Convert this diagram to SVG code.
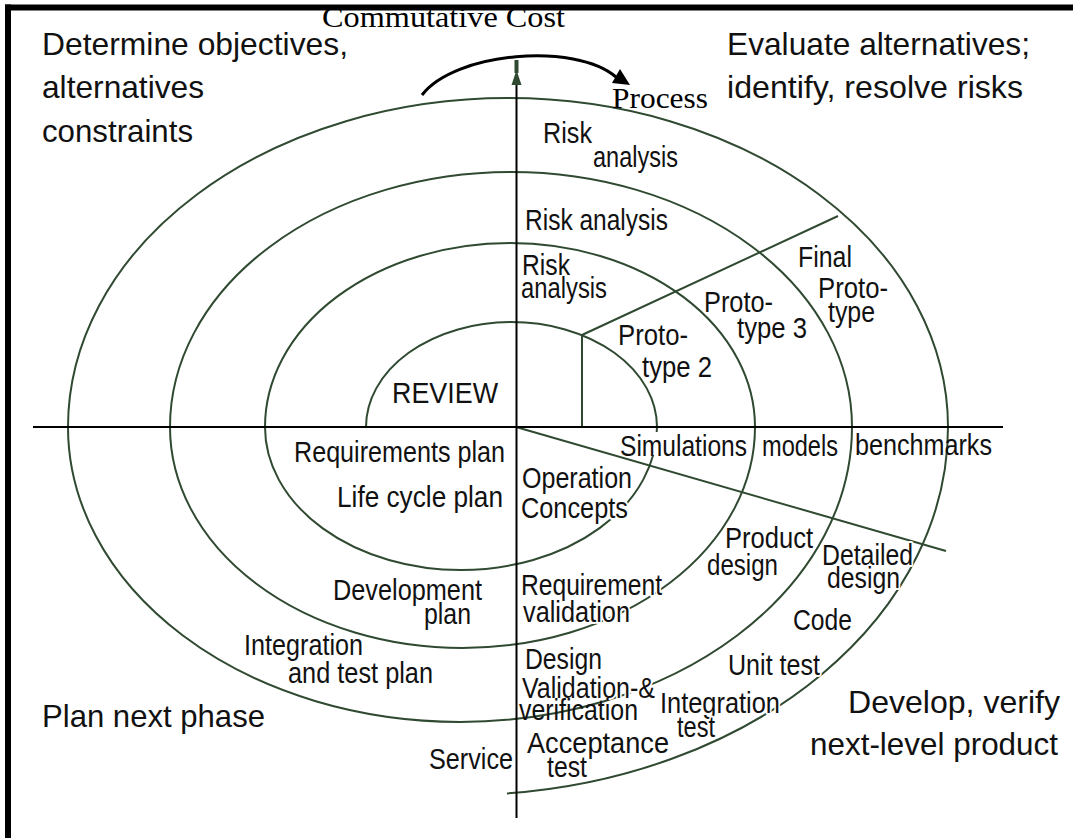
<svg xmlns="http://www.w3.org/2000/svg" width="1073" height="838" viewBox="0 0 1073 838">
<style>
  .arc { fill: none; stroke: #2f4a31; stroke-width: 2; }
  .guide { fill: none; stroke: #2f4a31; stroke-width: 2; }
  .axis { fill: none; stroke: #000; stroke-width: 2; }
  .lbl { font-family: "Liberation Sans", Arial, sans-serif; font-size: 30px; fill: #111; }
  .big { font-size: 32px; }
  .halo { stroke: #fff; stroke-width: 4; stroke-linejoin: round; paint-order: stroke; }
  .serif { font-family: "Liberation Serif", "Times New Roman", serif; font-size: 29px; fill: #000; }
</style>

<rect width="1073" height="838" fill="#fff"/>

<!-- page frame: heavy rule along top and left edges -->
<g id="frame" fill="#000">
  <rect x="5" y="4.5" width="1068" height="6"/>
  <rect x="5" y="4.5" width="6" height="833.5"/>
</g>

<g id="connectors">
  <!-- spiral: alternating upper and lower half-ellipses -->
  <path class="arc" d="M366,427 A145.5,105 0 0 1 657,427"/>
  <path class="arc" d="M657,427 A196,143 0 0 1 265,427"/>
  <path class="arc" d="M265,427 A245,184 0 0 1 755,427"/>
  <path class="arc" d="M755,427 A292.5,221 0 0 1 170,427"/>
  <path class="arc" d="M170,427 A341,255 0 0 1 852,427"/>
  <path class="arc" d="M852,427 A392,295 0 0 1 68,427"/>
  <path class="arc" d="M68,427 A440,329 0 0 1 948,427"/>
  <path class="arc" d="M948,427 A487,368 0 0 1 507,793.4"/>
  <!-- prototype divider and development divider -->
  <path class="guide" d="M582,427 V335 L838,216"/>
  <path class="guide" d="M516,427 L946,551"/>
  <!-- axes -->
  <path class="axis" d="M33,427 H1003"/>
  <path class="axis" d="M516.5,84 V818"/>
  <rect x="514.5" y="60" width="4" height="13" fill="#2f4a31"/>
  <polygon points="511.5,85 521.5,85 516.5,70" fill="#2f4a31"/>
  <!-- cumulative cost / process arrow -->
  <path d="M422,95 C455,52 575,42 616,77" fill="none" stroke="#000" stroke-width="3"/>
  <polygon points="612,83 620,69 630,85" fill="#000"/>
</g>

<g id="arrow-labels">
  <text class="serif" x="322" y="27" textLength="243" lengthAdjust="spacingAndGlyphs">Commutative Cost</text>
  <text class="serif" x="612" y="108" textLength="96" lengthAdjust="spacingAndGlyphs">Process</text>
</g>

<g id="quadrant-objectives">
  <text class="lbl big" x="42" y="55" textLength="306" lengthAdjust="spacingAndGlyphs">Determine objectives,</text>
  <text class="lbl big" x="42" y="98" textLength="162" lengthAdjust="spacingAndGlyphs">alternatives</text>
  <text class="lbl big" x="42" y="142" textLength="151" lengthAdjust="spacingAndGlyphs">constraints</text>
</g>
<g id="quadrant-evaluate">
  <text class="lbl big" x="727" y="55" textLength="303" lengthAdjust="spacingAndGlyphs">Evaluate alternatives;</text>
  <text class="lbl big" x="727" y="98" textLength="296" lengthAdjust="spacingAndGlyphs">identify, resolve risks</text>
</g>
<g id="quadrant-plan">
  <text class="lbl big" x="42" y="727" textLength="223" lengthAdjust="spacingAndGlyphs">Plan next phase</text>
</g>
<g id="quadrant-develop">
  <text class="lbl big" x="848" y="713" textLength="212" lengthAdjust="spacingAndGlyphs">Develop, verify</text>
  <text class="lbl big" x="810" y="755" textLength="248" lengthAdjust="spacingAndGlyphs">next-level product</text>
</g>

<g id="risk-analysis-outer">
  <text class="lbl" x="543" y="143" textLength="49" lengthAdjust="spacingAndGlyphs">Risk</text>
  <text class="lbl" x="593" y="167" textLength="85" lengthAdjust="spacingAndGlyphs">analysis</text>
</g>
<g id="risk-analysis-middle">
  <text class="lbl" x="525" y="230" textLength="143" lengthAdjust="spacingAndGlyphs">Risk analysis</text>
</g>
<g id="risk-analysis-inner">
  <text class="lbl" x="522" y="275" textLength="48" lengthAdjust="spacingAndGlyphs">Risk</text>
  <text class="lbl" x="521" y="298" textLength="86" lengthAdjust="spacingAndGlyphs">analysis</text>
</g>
<g id="final-prototype">
  <text class="lbl" x="798" y="267" textLength="54" lengthAdjust="spacingAndGlyphs">Final</text>
  <text class="lbl" x="818" y="298" textLength="70" lengthAdjust="spacingAndGlyphs">Proto-</text>
  <text class="lbl" x="828" y="322" textLength="47" lengthAdjust="spacingAndGlyphs">type</text>
</g>
<g id="prototype-3">
  <text class="lbl" x="704" y="312" textLength="69" lengthAdjust="spacingAndGlyphs">Proto-</text>
  <text class="lbl" x="737" y="338" textLength="70" lengthAdjust="spacingAndGlyphs">type 3</text>
</g>
<g id="prototype-2">
  <text class="lbl" x="618" y="345" textLength="70" lengthAdjust="spacingAndGlyphs">Proto-</text>
  <text class="lbl" x="642" y="377" textLength="70" lengthAdjust="spacingAndGlyphs">type 2</text>
</g>
<g id="review">
  <text class="lbl" x="392" y="403" textLength="106" lengthAdjust="spacingAndGlyphs">REVIEW</text>
</g>
<g id="simulations">
  <rect x="617" y="432" width="132" height="23" fill="#fff"/>
  <text class="lbl" x="620" y="456" textLength="127" lengthAdjust="spacingAndGlyphs">Simulations</text>
  <text class="lbl" x="762" y="456" textLength="76" lengthAdjust="spacingAndGlyphs">models</text>
  <text class="lbl" x="855" y="455" textLength="137" lengthAdjust="spacingAndGlyphs">benchmarks</text>
</g>
<g id="requirements-plan">
  <text class="lbl" x="294" y="462" textLength="211" lengthAdjust="spacingAndGlyphs">Requirements plan</text>
  <text class="lbl" x="337" y="507" textLength="166" lengthAdjust="spacingAndGlyphs">Life cycle plan</text>
</g>
<g id="operation-concepts">
  <text class="lbl halo" x="522" y="488" textLength="110" lengthAdjust="spacingAndGlyphs">Operation</text>
  <text class="lbl halo" x="521" y="518" textLength="107" lengthAdjust="spacingAndGlyphs">Concepts</text>
</g>
<g id="product-design">
  <text class="lbl halo" x="725" y="548" textLength="88" lengthAdjust="spacingAndGlyphs">Product</text>
  <text class="lbl halo" x="707" y="575" textLength="71" lengthAdjust="spacingAndGlyphs">design</text>
</g>
<g id="detailed-design">
  <text class="lbl halo" x="822" y="565" textLength="91" lengthAdjust="spacingAndGlyphs">Detailed</text>
  <text class="lbl halo" x="827" y="588" textLength="73" lengthAdjust="spacingAndGlyphs">design</text>
</g>
<g id="development-plan">
  <text class="lbl" x="333" y="600" textLength="149" lengthAdjust="spacingAndGlyphs">Development</text>
  <text class="lbl" x="424" y="624" textLength="47" lengthAdjust="spacingAndGlyphs">plan</text>
</g>
<g id="requirement-validation">
  <text class="lbl halo" x="521" y="595" textLength="141" lengthAdjust="spacingAndGlyphs">Requirement</text>
  <text class="lbl halo" x="523" y="622" textLength="107" lengthAdjust="spacingAndGlyphs">validation</text>
</g>
<g id="code">
  <text class="lbl" x="793" y="630" textLength="59" lengthAdjust="spacingAndGlyphs">Code</text>
</g>
<g id="integration-test-plan">
  <text class="lbl" x="244" y="655" textLength="119" lengthAdjust="spacingAndGlyphs">Integration</text>
  <text class="lbl" x="288" y="683" textLength="145" lengthAdjust="spacingAndGlyphs">and test plan</text>
</g>
<g id="design-validation">
  <text class="lbl" x="525" y="669" textLength="77" lengthAdjust="spacingAndGlyphs">Design</text>
  <text class="lbl halo" x="522" y="698" textLength="133" lengthAdjust="spacingAndGlyphs">Validation-&amp;</text>
  <text class="lbl" x="519" y="720" textLength="119" lengthAdjust="spacingAndGlyphs">verification</text>
</g>
<g id="unit-test">
  <text class="lbl halo" x="728" y="675" textLength="92" lengthAdjust="spacingAndGlyphs">Unit test</text>
</g>
<g id="integration-test">
  <text class="lbl halo" x="660" y="713" textLength="120" lengthAdjust="spacingAndGlyphs">Integration</text>
  <text class="lbl halo" x="677" y="737" textLength="38" lengthAdjust="spacingAndGlyphs">test</text>
</g>
<g id="acceptance-test">
  <text class="lbl halo" x="527" y="753" textLength="142" lengthAdjust="spacingAndGlyphs">Acceptance</text>
  <text class="lbl halo" x="547" y="777" textLength="40" lengthAdjust="spacingAndGlyphs">test</text>
</g>
<g id="service">
  <text class="lbl" x="429" y="769" textLength="84" lengthAdjust="spacingAndGlyphs">Service</text>
</g>
</svg>
